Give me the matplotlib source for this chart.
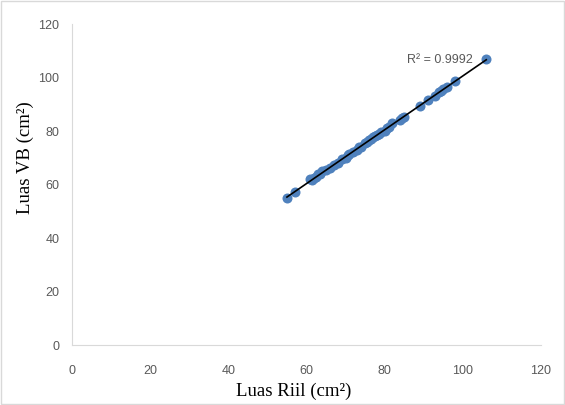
import matplotlib.pyplot as plt
import numpy as np

# data (Luas Riil vs Luas VB, cm2)
luas_riil = [55, 57, 61, 61.5, 62, 62.5, 63, 63.5, 64, 65, 66, 67, 68, 69,
             70, 70.5, 71, 72, 73, 73.5, 74, 75, 75.5, 76, 76.5, 77, 77.5,
             78, 78.5, 79, 80, 80.5, 81, 82, 84, 84.5, 85, 89, 91, 93, 94,
             94.5, 95, 96, 98, 106]
luas_vb = [55, 57.2, 62, 61.8, 62.6, 63, 64, 63.8, 65, 65.4, 66, 67.2, 68, 69.5,
           70, 71, 71.4, 72, 73, 74, 74.2, 75.4, 75.8, 76.5, 77.2, 77.6, 78.3,
           78.5, 79, 79.6, 80, 81, 81.4, 83, 84.2, 85, 85.4, 89.5, 91.6, 93.2, 94.6,
           95, 95.6, 96.4, 98.8, 107]
x_ticks = [0, 20, 40, 60, 80, 100, 120]
y_ticks = [0, 20, 40, 60, 80, 100, 120]

fig = plt.figure(figsize=(5.65, 4.05), dpi=100)
ax = fig.add_axes([0.1274, 0.148, 0.8301, 0.7927])

ax.scatter(luas_riil, luas_vb, s=52, color='#4f81bd', zorder=2, linewidths=0)

# linear trendline
xr = np.array(luas_riil)
yr = np.array(luas_vb)
k, b = np.polyfit(xr, yr, 1)
xl = np.array([xr.min(), xr.max()])
ax.plot(xl, k * xl + b, color='black', lw=1.2, zorder=3)

ax.text(102.6, 106.4, 'R² = 0.9992', ha='right', va='center',
        fontsize=9, color='#595959', family='Liberation Sans')

ax.set_xlim(0, 120)
ax.set_ylim(0, 120)
ax.set_xticks(x_ticks)
ax.set_yticks(y_ticks)
ax.tick_params(length=0, labelsize=9, labelcolor='#595959')
ax.tick_params(axis='x', pad=14)
ax.tick_params(axis='y', pad=9)
for lab in ax.get_xticklabels() + ax.get_yticklabels():
    lab.set_family('Liberation Sans')

for s in ['top', 'right']:
    ax.spines[s].set_visible(False)
for s in ['left', 'bottom']:
    ax.spines[s].set_color('#d9d9d9')

ax.set_xlabel('Luas Riil (cm²)', family='Liberation Serif', fontsize=13.5)
ax.set_ylabel('Luas VB (cm²)', family='Liberation Serif', fontsize=13.5)
ax.xaxis.set_label_coords(0.473, -0.118)
ax.yaxis.set_label_coords(-0.081, 0.585)

# light border round the figure
fig.patches.append(plt.Rectangle((0.002, 0.002), 0.996, 0.996, transform=fig.transFigure,
                                 fill=False, edgecolor='#d9d9d9', lw=1))

fig.savefig('out.png', dpi=100)
